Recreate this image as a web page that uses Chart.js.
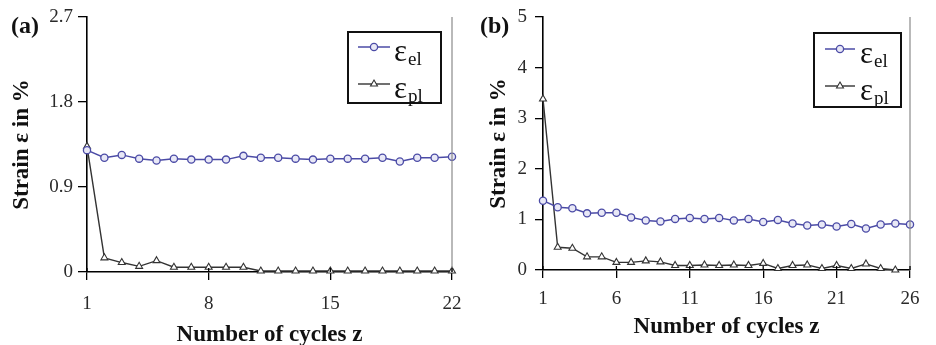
<!DOCTYPE html>
<html>
<head>
<meta charset="utf-8">
<script src="https://cdn.jsdelivr.net/npm/chart.js@4"></script>
<style>
  html, body { margin: 0; padding: 0; background: #fff; }
  #wrap { position: relative; width: 936px; height: 345px; }
  .panel { position: absolute; top: 0; width: 468px; height: 345px; }
</style>
</head>
<body>
<div id="wrap">
  <div class="panel" style="left:0"><canvas id="chartA" width="468" height="345"></canvas></div>
  <div class="panel" style="left:468px"><canvas id="chartB" width="468" height="345"></canvas></div>
</div>
<script>
// panel (a)
const cyclesA = [1, 2, 3, 4, 5, 6, 7, 8, 9, 10, 11, 12, 13, 14, 15, 16, 17, 18, 19, 20, 21, 22];
const elA = [1.29, 1.21, 1.24, 1.20, 1.18, 1.20, 1.19, 1.19, 1.19, 1.23, 1.21, 1.21, 1.20, 1.19, 1.20, 1.20, 1.20, 1.21, 1.17, 1.21, 1.21, 1.22];
const plA = [1.33, 0.15, 0.10, 0.06, 0.12, 0.05, 0.05, 0.05, 0.05, 0.05, 0.01, 0.01, 0.01, 0.01, 0.01, 0.01, 0.01, 0.01, 0.01, 0.01, 0.01, 0.01];
const xTicksA = [1, 8, 15, 22];
const yTicksA = [0, 0.9, 1.8, 2.7];

// panel (b)
const cyclesB = [1, 2, 3, 4, 5, 6, 7, 8, 9, 10, 11, 12, 13, 14, 15, 16, 17, 18, 19, 20, 21, 22, 23, 24, 25, 26];
const elB = [1.37, 1.24, 1.22, 1.12, 1.13, 1.13, 1.04, 0.98, 0.96, 1.01, 1.03, 1.01, 1.03, 0.98, 1.01, 0.95, 0.99, 0.92, 0.88, 0.90, 0.86, 0.91, 0.82, 0.90, 0.92, 0.90];
const plB = [3.38, 0.45, 0.43, 0.26, 0.26, 0.15, 0.15, 0.18, 0.16, 0.09, 0.09, 0.10, 0.09, 0.10, 0.09, 0.13, 0.03, 0.09, 0.10, 0.03, 0.09, 0.03, 0.12, 0.03, 0.00, null];
const xTicksB = [1, 6, 11, 16, 21, 26];
const yTicksB = [0, 1, 2, 3, 4, 5];

const BLUE = '#4b4ba6';
const DARK = '#333333';
const SERIF = '"Liberation Serif", "DejaVu Serif", serif';

// frame line, crossing x ticks, panel letter and the boxed legend
const panelDecor = {
    id: 'panelDecor',
    afterDraw(chart, args, opts) {
        const ctx = chart.ctx;
        const area = chart.chartArea;
        const xs = chart.scales.x;
        ctx.save();

        ctx.strokeStyle = '#8a8a8a';
        ctx.lineWidth = 1.2;
        ctx.beginPath();
        ctx.moveTo(area.right, area.top);
        ctx.lineTo(area.right, area.bottom);
        ctx.stroke();

        ctx.strokeStyle = '#000';
        ctx.lineWidth = 1.3;
        xs.ticks.forEach(t => {
            const px = xs.getPixelForValue(t.value);
            ctx.beginPath();
            ctx.moveTo(px, area.bottom - 4);
            ctx.lineTo(px, area.bottom);
            ctx.stroke();
        });

        ctx.fillStyle = '#111';
        ctx.font = 'bold 24px ' + SERIF;
        ctx.textBaseline = 'alphabetic';
        ctx.textAlign = 'left';
        ctx.fillText(opts.letter, opts.letterX, 33);

        const box = opts.box;
        ctx.lineWidth = 2;
        ctx.strokeStyle = '#111';
        ctx.strokeRect(box.x, box.y, box.w, box.h);

        chart.data.datasets.forEach((ds, i) => {
            const ly = opts.rowY[i];
            ctx.strokeStyle = ds.borderColor;
            ctx.lineWidth = ds.borderWidth;
            ctx.beginPath();
            ctx.moveTo(opts.lineX[0], ly);
            ctx.lineTo(opts.lineX[1], ly);
            ctx.stroke();
            ctx.fillStyle = ds.pointBackgroundColor;
            ctx.strokeStyle = ds.pointBorderColor;
            ctx.lineWidth = ds.pointBorderWidth;
            Chart.helpers.drawPoint(ctx, {
                pointStyle: ds.pointStyle,
                radius: ds.pointRadius,
                borderWidth: ds.pointBorderWidth,
                rotation: 0
            }, (opts.lineX[0] + opts.lineX[1]) / 2, ly);

            ctx.fillStyle = '#111';
            ctx.font = '31px ' + SERIF;
            ctx.fillText('ε', opts.textX, ly + 14);
            const w = ctx.measureText('ε').width;
            ctx.font = '19px ' + SERIF;
            ctx.fillText(ds.label, opts.textX + w + 1, ly + 18);
        });
        ctx.restore();
    }
};

function makePanel(id, cycles, el, pl, xTicks, yTicks, p) {
    return new Chart(document.getElementById(id), {
        type: 'line',
        data: {
            datasets: [{
                label: 'el',
                data: cycles.map((c, i) => ({ x: c, y: el[i] })),
                borderColor: BLUE,
                borderWidth: 1.5,
                pointStyle: 'circle',
                pointRadius: 3.6,
                pointBorderWidth: 1.3,
                pointBorderColor: BLUE,
                pointBackgroundColor: '#e8e8f6',
                clip: false
            }, {
                label: 'pl',
                data: cycles.map((c, i) => ({ x: c, y: pl[i] })),
                borderColor: DARK,
                borderWidth: 1.4,
                pointStyle: 'triangle',
                pointRadius: 4,
                pointBorderWidth: 1.1,
                pointBorderColor: DARK,
                pointBackgroundColor: '#ffffff',
                clip: false
            }]
        },
        options: {
            responsive: false,
            animation: false,
            events: [],
            layout: { padding: { top: 17, right: p.padRight, bottom: 0, left: 0 } },
            plugins: {
                legend: { display: false },
                tooltip: { enabled: false },
                panelDecor: p.decor
            },
            scales: {
                x: {
                    type: 'linear',
                    min: cycles[0],
                    max: cycles[cycles.length - 1],
                    afterBuildTicks: s => { s.ticks = xTicks.map(v => ({ value: v })); },
                    afterFit: s => {
                        s.height = p.xHeight;
                        s.paddingLeft = 0;
                        s.paddingRight = 0;
                    },
                    grid: { drawOnChartArea: false, drawTicks: true, tickLength: 8, color: '#000', lineWidth: 1.3 },
                    border: { display: true, color: '#000', width: 1.6 },
                    ticks: {
                        color: '#2a2a2a',
                        padding: p.xTickPad,
                        maxRotation: 0,
                        font: { family: SERIF, size: 19 }
                    },
                    title: {
                        display: true,
                        text: 'Number of cycles z',
                        color: '#111',
                        padding: { top: p.xTitlePad, bottom: p.xTitlePad },
                        font: { family: SERIF, size: 23, weight: 'bold', lineHeight: 1 }
                    }
                },
                y: {
                    min: yTicks[0],
                    max: yTicks[yTicks.length - 1],
                    afterBuildTicks: s => { s.ticks = yTicks.map(v => ({ value: v })); },
                    afterFit: s => {
                        s.width = p.yWidth;
                        s.paddingTop = 0;
                        s.paddingBottom = 0;
                    },
                    grid: { drawOnChartArea: false, drawTicks: true, tickLength: p.yTickLen, color: '#000', lineWidth: 1.3 },
                    border: { display: true, color: '#000', width: 1.6 },
                    ticks: {
                        color: '#2a2a2a',
                        padding: p.yTickPad,
                        callback: v => String(v),
                        font: { family: SERIF, size: 19 }
                    },
                    title: {
                        display: true,
                        text: 'Strain ε in %',
                        color: '#111',
                        padding: { top: p.yTitlePad, bottom: p.yTitlePad },
                        font: { family: SERIF, size: 23, weight: 'bold', lineHeight: 1 }
                    }
                }
            }
        },
        plugins: [panelDecor]
    });
}

makePanel('chartA', cyclesA, elA, plA, xTicksA, yTicksA, {
    padRight: 16, xHeight: 73, yWidth: 87, yTickLen: 9, yTickPad: 5,
    xTickPad: 13, xTitlePad: -2, yTitlePad: 11,
    decor: {
        letter: '(a)', letterX: 11,
        box: { x: 348, y: 32, w: 93, h: 71 },
        rowY: [47, 84], lineX: [358, 390], textX: 394
    }
});

makePanel('chartB', cyclesB, elB, plB, xTicksB, yTicksB, {
    padRight: 26, xHeight: 75, yWidth: 75, yTickLen: 8, yTickPad: 8,
    xTickPad: 10, xTitlePad: 6, yTitlePad: 20,
    decor: {
        letter: '(b)', letterX: 12,
        box: { x: 346, y: 33, w: 87, h: 74 },
        rowY: [49, 86], lineX: [357, 387], textX: 392
    }
});
</script>
</body>
</html>
